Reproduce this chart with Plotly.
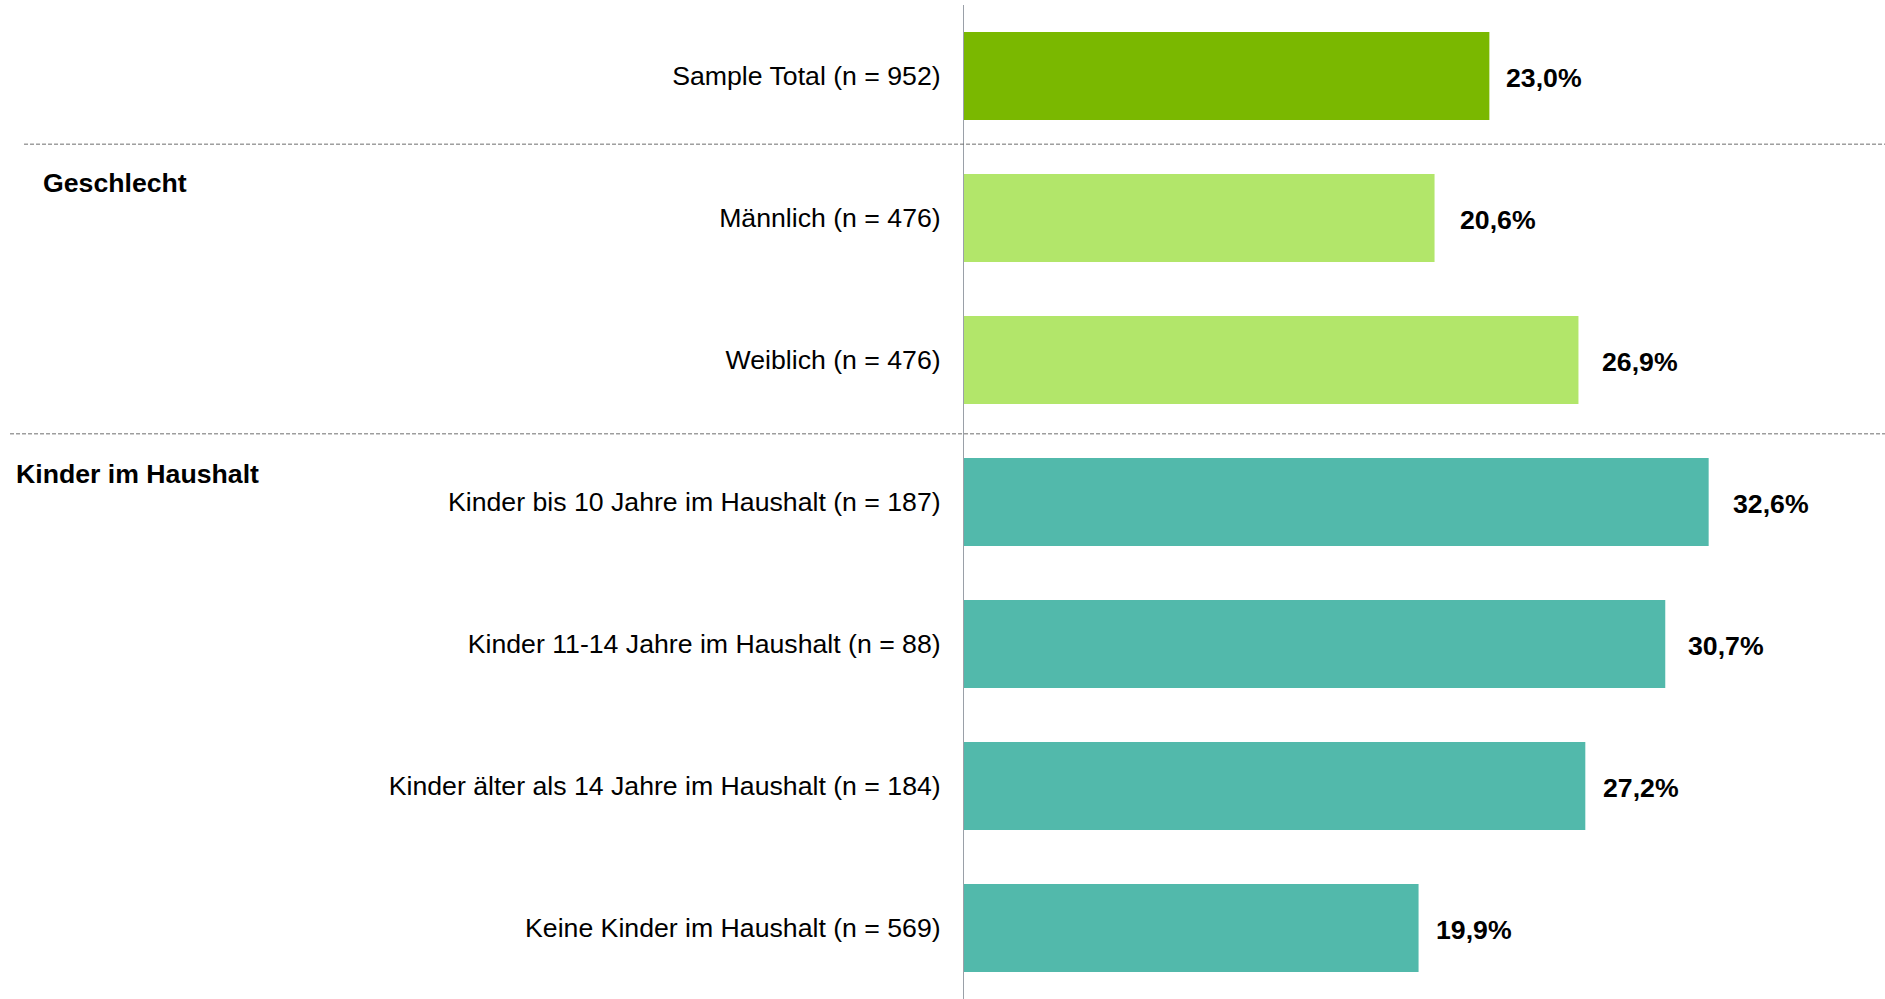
import plotly.graph_objects as go

categories = [
    "Sample Total (n = 952)",
    "Männlich (n = 476)",
    "Weiblich (n = 476)",
    "Kinder bis 10 Jahre im Haushalt (n = 187)",
    "Kinder 11-14 Jahre im Haushalt (n = 88)",
    "Kinder älter als 14 Jahre im Haushalt (n = 184)",
    "Keine Kinder im Haushalt (n = 569)",
]
values = [23.0, 20.6, 26.9, 32.6, 30.7, 27.2, 19.9]
value_labels = ["23,0%", "20,6%", "26,9%", "32,6%", "30,7%", "27,2%", "19,9%"]
bar_colors = ["#7AB800", "#B2E66A", "#B2E66A", "#52B9AB", "#52B9AB", "#52B9AB", "#52B9AB"]
group_titles = ["Geschlecht", "Kinder im Haushalt"]

# styling / placement (not data)
label_shift_px = [15, 23, 22, 22, 21, 16, 15]
group_title_pos = [0.75, 2.8]
group_title_x = [-1.0022, -1.0315]
separator_pos = [0.48, 2.52]
separator_x0 = [-1.0206, -1.0358]

FONT = "Liberation Sans, Arial, sans-serif"
FS = 26.67

fig = go.Figure()
fig.add_trace(go.Bar(
    x=values,
    y=categories,
    orientation="h",
    marker=dict(color=bar_colors, line=dict(width=0)),
    width=0.62,
    hoverinfo="skip",
))

annotations = []
for c, v, t, s in zip(categories, values, value_labels, label_shift_px):
    annotations.append(dict(
        x=v, y=c, xref="x", yref="y", text="<b>" + t + "</b>",
        showarrow=False, xanchor="left", yanchor="middle", xshift=s, yshift=-2,
        font=dict(family=FONT, size=FS, color="#000000"),
    ))
for g, p, gx in zip(group_titles, group_title_pos, group_title_x):
    annotations.append(dict(
        x=gx, y=p, xref="paper", yref="y", text="<b>" + g + "</b>",
        showarrow=False, xanchor="left", yanchor="middle",
        font=dict(family=FONT, size=FS, color="#000000"),
    ))

shapes = []
for s, x0 in zip(separator_pos, separator_x0):
    shapes.append(dict(
        type="line", xref="paper", yref="y", x0=x0, x1=1.0, y0=s, y1=s,
        line=dict(color="#6E6E6E", width=1, dash="4px,2px"),
    ))

fig.update_layout(
    width=1885, height=999,
    margin=dict(l=964, r=0, t=5, b=0),
    paper_bgcolor="white", plot_bgcolor="white",
    showlegend=False,
    annotations=annotations,
    shapes=shapes,
    xaxis=dict(range=[0, 40.32], visible=False, showgrid=False, zeroline=False),
    yaxis=dict(
        autorange="reversed", showgrid=False, zeroline=False,
        showline=True, linecolor="#9AA0A8", linewidth=1,
        ticks="", ticklabelstandoff=17,
        tickfont=dict(family=FONT, size=FS, color="#000000"),
    ),
)

fig.write_html("out.html", config={"displayModeBar": False},
               post_script="document.body.style.margin='0';")
